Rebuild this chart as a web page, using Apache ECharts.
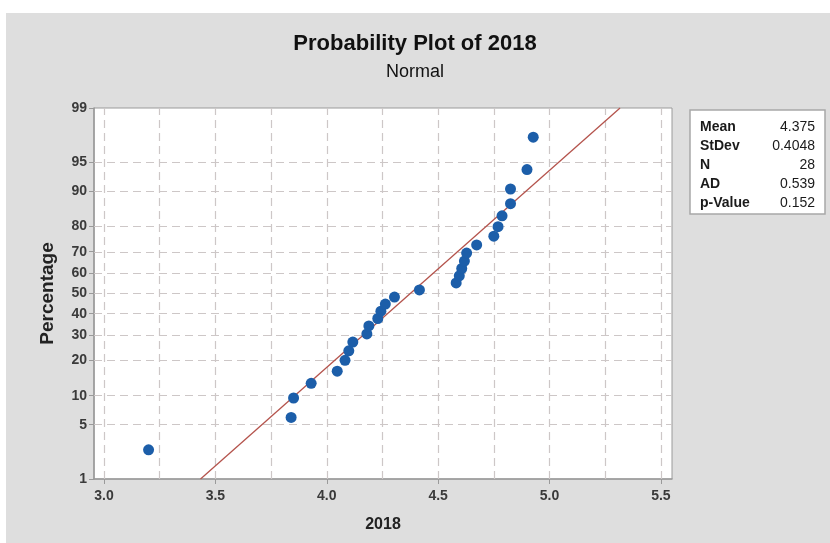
<!DOCTYPE html>
<html>
<head>
<meta charset="utf-8">
<script src="https://cdn.jsdelivr.net/npm/echarts@6/dist/echarts.min.js"></script>
<style>
html,body{margin:0;padding:0;background:#ffffff;}
#chart{width:830px;height:543px;}
</style>
</head>
<body>
<div id="chart"></div>
<script>
// ---- data ----
const sample2018 = [3.200, 3.840, 3.851, 3.930, 4.047, 4.082, 4.099, 4.117, 4.180, 4.189,
  4.229, 4.243, 4.263, 4.304, 4.416, 4.581, 4.595, 4.606, 4.618, 4.628,
  4.673, 4.750, 4.769, 4.787, 4.825, 4.825, 4.899, 4.927];
const percentRank = [2.5, 6.0, 9.5, 13.0, 16.5, 20.1, 23.6, 27.1, 30.6, 34.2,
  37.7, 41.2, 44.7, 48.2, 51.8, 55.3, 58.8, 62.3, 65.8, 69.4,
  72.9, 76.4, 79.9, 83.5, 87.0, 90.5, 94.0, 97.5];
const xTickValues = [3.0, 3.5, 4.0, 4.5, 5.0, 5.5];
const xTickLabels = ['3.0', '3.5', '4.0', '4.5', '5.0', '5.5'];
const xGridValues = [3.0, 3.25, 3.5, 3.75, 4.0, 4.25, 4.5, 4.75, 5.0, 5.25, 5.5];
const yTickPercents = [1, 5, 10, 20, 30, 40, 50, 60, 70, 80, 90, 95, 99];
const yTickLabels = ['1', '5', '10', '20', '30', '40', '50', '60', '70', '80', '90', '95', '99'];
const statsLabels = ['Mean', 'StDev', 'N', 'AD', 'p-Value'];
const statsValues = ['4.375', '0.4048', '28', '0.539', '0.152'];
const fitMean = 4.375;
const fitStDev = 0.4048;

// normal probability scale: percent -> z (inverse normal CDF, Acklam)
function normInv(p) {
  const a = [-3.969683028665376e+01, 2.209460984245205e+02, -2.759285104469687e+02, 1.383577518672690e+02, -3.066479806614716e+01, 2.506628277459239e+00];
  const b = [-5.447609879822406e+01, 1.615858368580409e+02, -1.556989798598866e+02, 6.680131188771972e+01, -1.328068155288572e+01];
  const c = [-7.784894002430293e-03, -3.223964580411365e-01, -2.400758277161838e+00, -2.549732539343734e+00, 4.374664141464968e+00, 2.938163982698783e+00];
  const d = [7.784695709041462e-03, 3.224671290700398e-01, 2.445134137142996e+00, 3.754408661907416e+00];
  const pl = 0.02425, ph = 1 - pl;
  let q, r;
  if (p < pl) {
    q = Math.sqrt(-2 * Math.log(p));
    return (((((c[0]*q+c[1])*q+c[2])*q+c[3])*q+c[4])*q+c[5]) / ((((d[0]*q+d[1])*q+d[2])*q+d[3])*q+1);
  } else if (p <= ph) {
    q = p - 0.5; r = q * q;
    return (((((a[0]*r+a[1])*r+a[2])*r+a[3])*r+a[4])*r+a[5])*q / (((((b[0]*r+b[1])*r+b[2])*r+b[3])*r+b[4])*r+1);
  } else {
    q = Math.sqrt(-2 * Math.log(1 - p));
    return -(((((c[0]*q+c[1])*q+c[2])*q+c[3])*q+c[4])*q+c[5]) / ((((d[0]*q+d[1])*q+d[2])*q+d[3])*q+1);
  }
}
const z = pct => normInv(pct / 100);
const yTickZ = yTickPercents.map(z);
const zMin = yTickZ[0], zMax = yTickZ[yTickZ.length - 1];

const points = sample2018.map((v, i) => [v, z(percentRank[i])]);
const fitLine = [[fitMean + fitStDev * zMin, zMin], [fitMean + fitStDev * zMax, zMax]];

const gridColor = '#cdc7c7';
const axisColor = '#9a9a9a';
const labelColor = '#3a3a3a';

const chart = echarts.init(document.getElementById('chart'), null, { renderer: 'canvas' });

const statsGraphics = [];
statsLabels.forEach((lab, i) => {
  statsGraphics.push({ type: 'text', x: 700, y: 127 + i * 19, style: { text: lab, fill: '#1a1a1a', font: 'bold 14px "Liberation Sans", Arial, sans-serif', textAlign: 'left', textVerticalAlign: 'middle' } });
  statsGraphics.push({ type: 'text', x: 815, y: 127 + i * 19, style: { text: statsValues[i], fill: '#1a1a1a', font: '14px "Liberation Sans", Arial, sans-serif', textAlign: 'right', textVerticalAlign: 'middle' } });
});

chart.setOption({
  animation: false,
  backgroundColor: '#ffffff',
  textStyle: { fontFamily: '"Liberation Sans", Arial, sans-serif' },
  title: [
    { text: 'Probability Plot of 2018', left: 'center', top: 33, padding: [0, 0, 0, 10],
      textStyle: { fontSize: 22, fontWeight: 'bold', color: '#111111' } },
    { text: 'Normal', left: 'center', top: 63, padding: [0, 0, 0, 10],
      textStyle: { fontSize: 18, fontWeight: 'normal', color: '#111111' } }
  ],
  graphic: [
    { type: 'rect', z: -10, silent: true, shape: { x: 6, y: 13, width: 824, height: 530 }, style: { fill: '#dedede' } },
    { type: 'rect', silent: true, shape: { x: 690, y: 110, width: 135, height: 104 }, style: { fill: '#ffffff', stroke: '#a8a8a8', lineWidth: 1.5 } }
  ].concat(statsGraphics),
  grid: { left: 94, right: 158, top: 108, bottom: 64, show: true, backgroundColor: '#ffffff', borderColor: axisColor, borderWidth: 1 },
  xAxis: {
    type: 'value', min: 2.955, max: 5.55,
    name: '2018', nameLocation: 'middle', nameGap: 38,
    nameTextStyle: { fontSize: 16, fontWeight: 'bold', color: '#222222' },
    axisLine: { show: true, onZero: false, lineStyle: { color: axisColor, width: 1.5 } },
    axisTick: { show: true, length: 5, customValues: xTickValues, lineStyle: { color: axisColor } },
    axisLabel: { customValues: xTickValues, formatter: v => xTickLabels[xTickValues.findIndex(t => Math.abs(t - v) < 1e-6)] || '',
      fontSize: 14, fontWeight: 'bold', color: labelColor, margin: 10 },
    splitLine: { show: false }
  },
  yAxis: {
    type: 'value', min: zMin, max: zMax,
    name: 'Percentage', nameLocation: 'middle', nameGap: 37,
    nameTextStyle: { fontSize: 19, fontWeight: 'bold', color: '#222222' },
    axisLine: { show: true, onZero: false, lineStyle: { color: axisColor, width: 1.5 } },
    axisTick: { show: true, length: 5, customValues: yTickZ, lineStyle: { color: axisColor } },
    axisLabel: { customValues: yTickZ, formatter: v => { let bi = 0, bd = 1e9; yTickZ.forEach((t, i) => { const d = Math.abs(t - v); if (d < bd) { bd = d; bi = i; } }); return yTickLabels[bi]; },
      fontSize: 14, fontWeight: 'bold', color: labelColor, margin: 7 },
    splitLine: { show: false }
  },
  series: [
    {
      name: 'grid', type: 'line', data: [], z: 1, silent: true,
      markLine: {
        z: 1, silent: true, symbol: ['none', 'none'], label: { show: false },
        lineStyle: { color: gridColor, type: [8, 5], width: 1.2 },
        emphasis: { disabled: true },
        data: xGridValues.map(v => ({ xAxis: v })).concat(yTickZ.slice(1, -1).map(v => ({ yAxis: v })))
      }
    },
    {
      name: 'Fit', type: 'line', data: fitLine, showSymbol: false, z: 3, silent: true,
      lineStyle: { color: '#b4534c', width: 1.3 }
    },
    {
      name: '2018', type: 'scatter', data: points, z: 6, symbol: 'circle', symbolSize: 11,
      itemStyle: { color: '#1c5ea9', opacity: 1 }
    }
  ]
});
</script>
</body>
</html>
